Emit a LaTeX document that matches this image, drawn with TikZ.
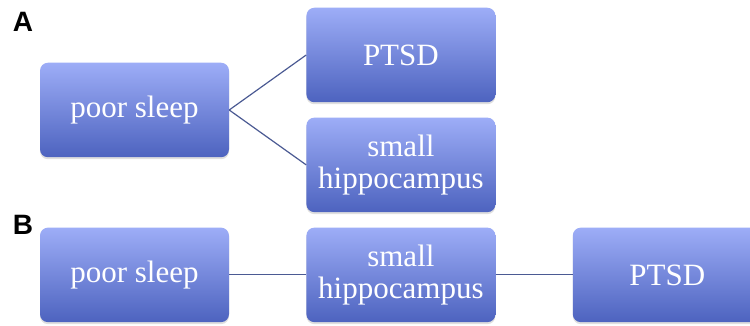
\documentclass[tikz,border=0pt]{standalone}
\usepackage{fontspec}
\setmainfont{Liberation Serif}
\newfontfamily\labelfont{Liberation Sans}
\usetikzlibrary{positioning,shadows}
\definecolor{boxtop}{HTML}{9DADF7}
\definecolor{boxbottom}{HTML}{4D63BF}
\definecolor{linkcol}{HTML}{4B5A93}
\tikzset{main node/.style={rectangle,rounded corners=8pt,top color=boxtop,bottom color=boxbottom,
    minimum width=189pt,minimum height=94.5pt,inner sep=2pt,align=center,text=white,
    font=\fontsize{31}{32}\selectfont,
    drop shadow={opacity=0.25,shadow xshift=0pt,shadow yshift=-2pt}},
  panel label/.style={font=\labelfont\bfseries\fontsize{28}{28}\selectfont,text=black,inner sep=0pt},
}

\begin{document}
\begin{tikzpicture}[x=1pt,y=1pt]
				\useasboundingbox[fill=white] (0,0) rectangle (750,326);
				% panel A
				\node[panel label] (labA) at (23,304) {A};
				\node[main node] (sleepA) at (134.5,216) {poor sleep};
				\node[main node] (ptsdA) [right =77pt of sleepA, yshift=55pt] {PTSD};
				\node[main node] (hippoA) [below =15pt of ptsdA] {small\\hippocampus};
				
				% panel B
				\node[panel label] (labB) at (23,101.5) {B};
				\node[main node] (sleepB) [below =70pt of sleepA] {poor sleep};
				\node[main node] (hippoB) [right =77pt of sleepB] {small\\hippocampus};
				\node[main node] (ptsdB) [right =77pt of hippoB] {PTSD};
				
				\path[draw,linkcol,line width=1.2pt]
				(sleepA.east) edge (ptsdA.west)
				(sleepA.east) edge (hippoA.west)
				(sleepB.east) edge (hippoB.west)
				(hippoB.east) edge (ptsdB.west);
				
			\end{tikzpicture}
\end{document}
